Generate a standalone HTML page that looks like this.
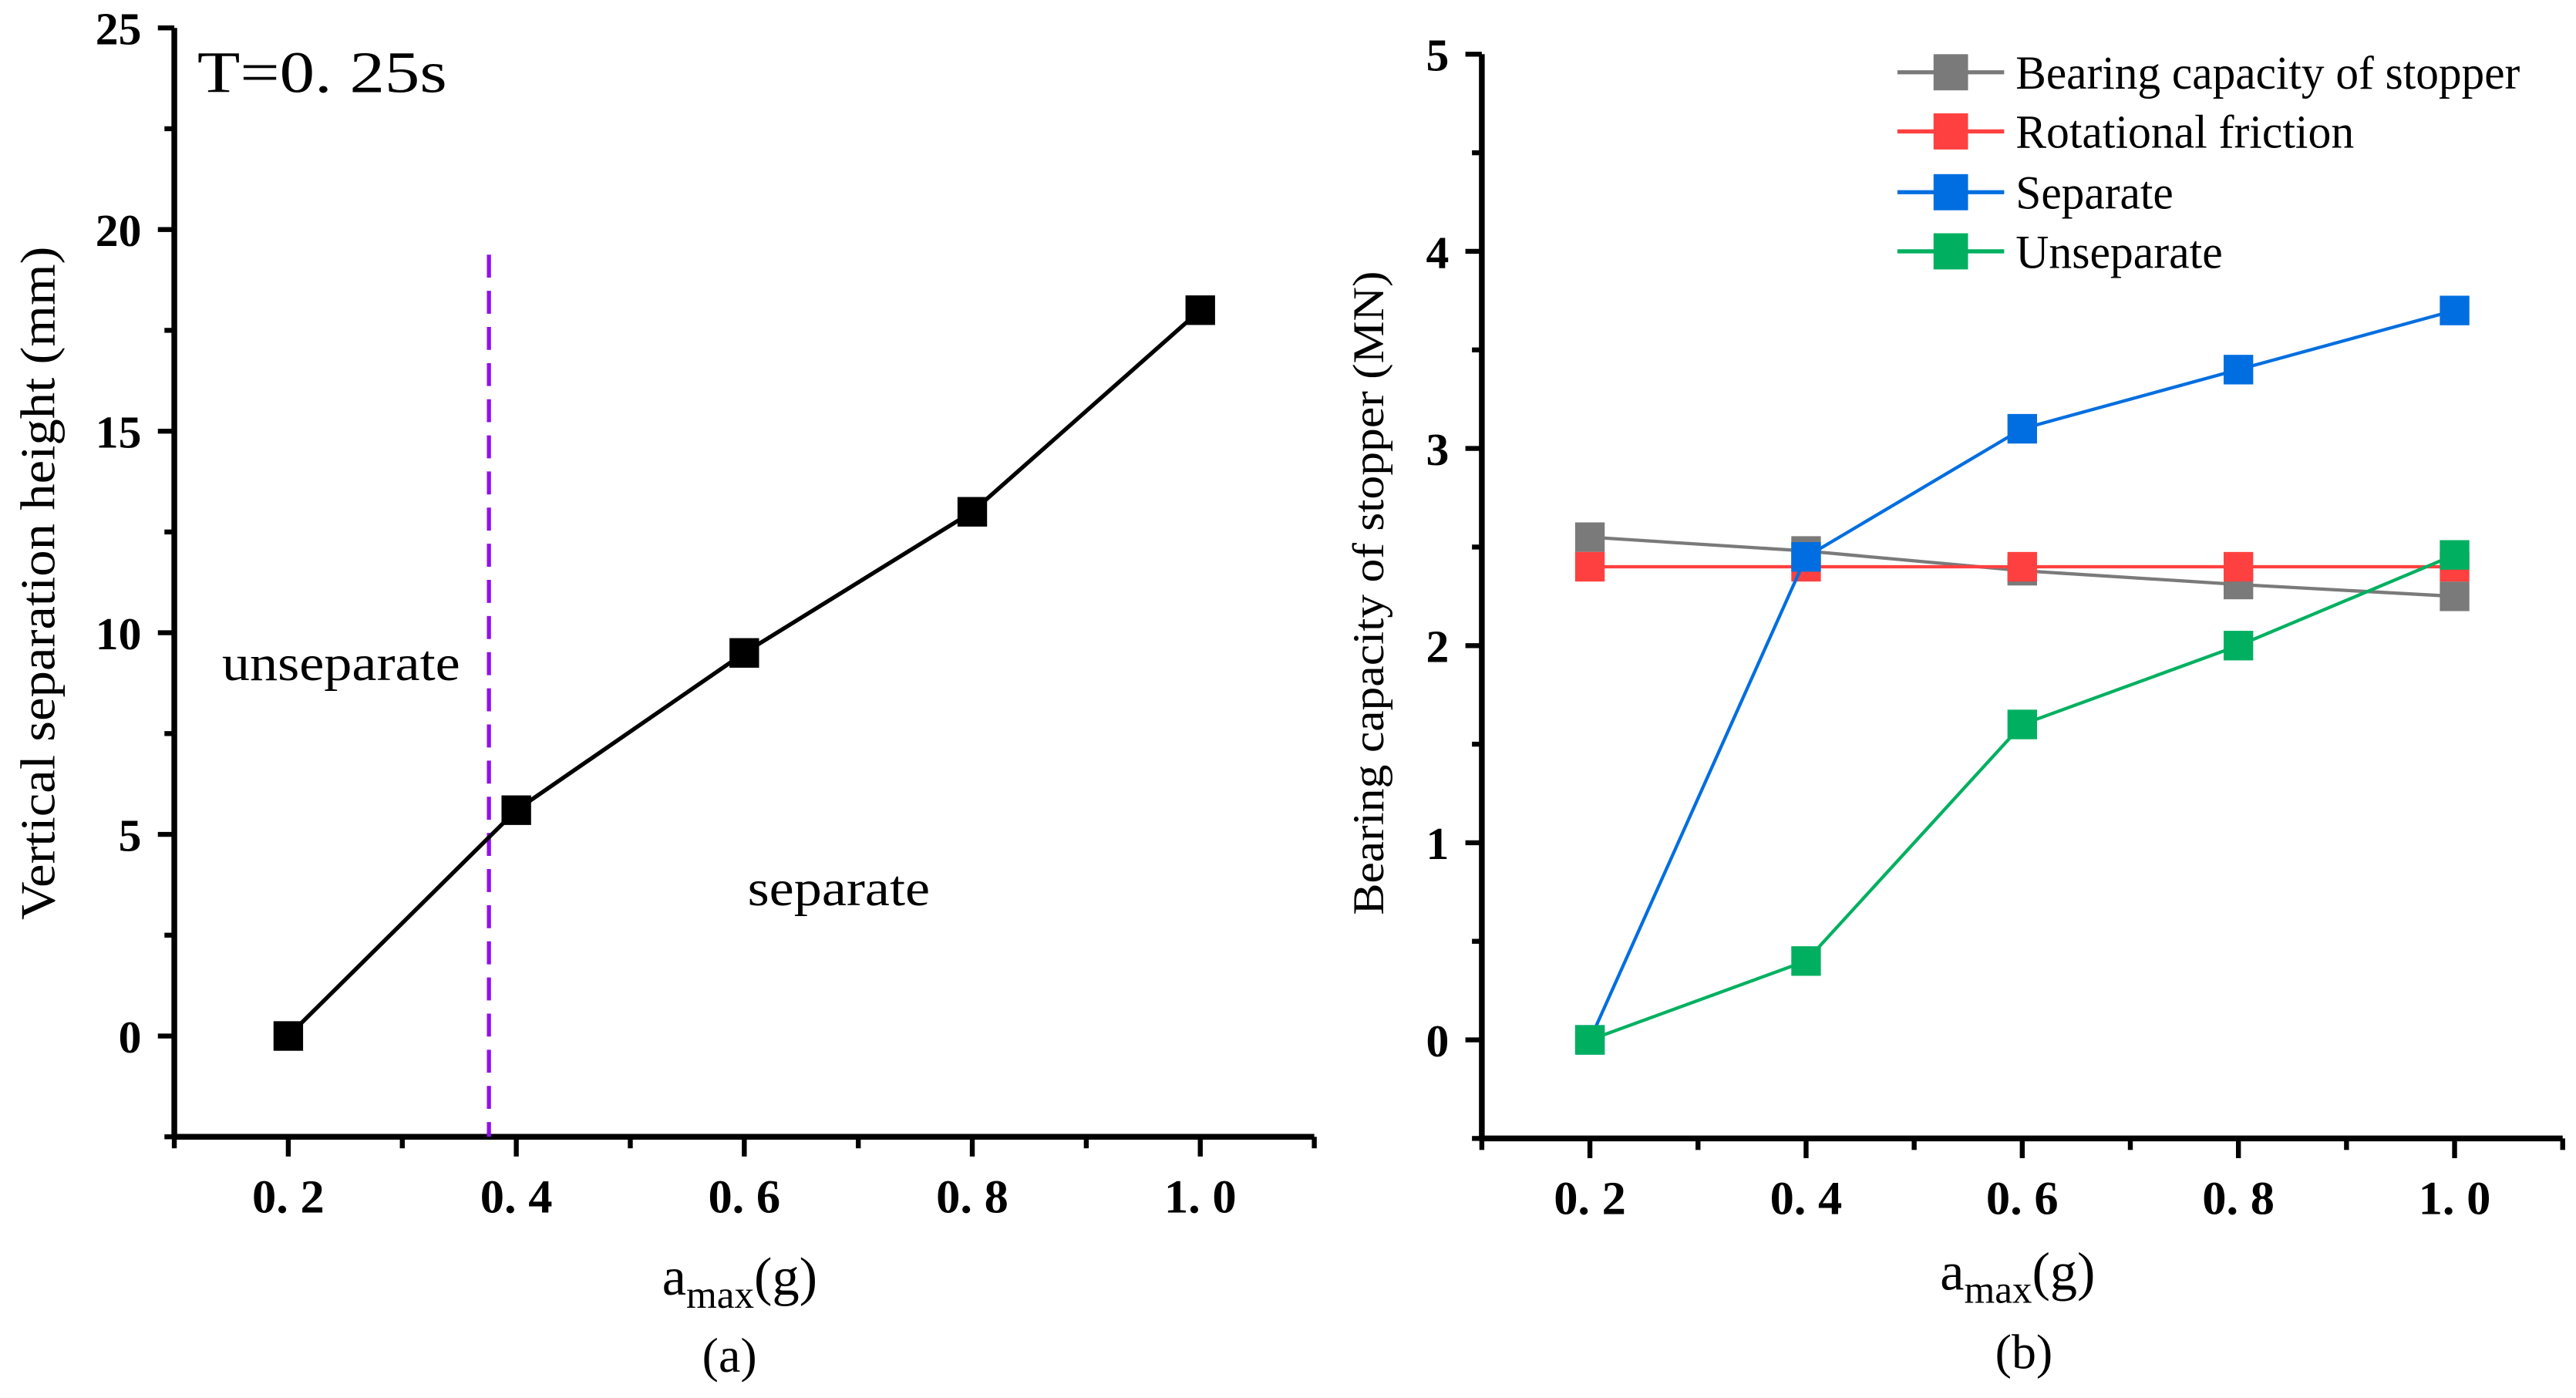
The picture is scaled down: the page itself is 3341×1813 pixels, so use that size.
<!DOCTYPE html>
<html><head><meta charset="utf-8"><style>html,body{margin:0;padding:0;background:#fff}svg{display:block}text{font-family:"Liberation Serif","Noto Serif CJK SC",serif;fill:#000}</style></head>
<body>
<svg id="fig" width="3341" height="1813" viewBox="0 0 1568 851" xmlns="http://www.w3.org/2000/svg">
<g id="chartA"></g>
<g id="chartB"></g>
</svg>
<script>
const xCats=[0.2,0.4,0.6,0.8,1.0];
const xTickLabels=["0. 2","0. 4","0. 6","0. 8","1. 0"];
const aValues=[0,5.6,9.5,13,18];
const aYTicks=[0,5,10,15,20,25];
const bYTicks=[0,1,2,3,4,5];
const bNames=["Bearing capacity of stopper","Rotational friction","Separate","Unseparate"];
const bColors=["#7a7a7a","#ff4040","#006ee0","#00b060"];
const bGray=[2.55,2.48,2.38,2.31,2.25];
const bRed=[2.4,2.4,2.4,2.4,2.4];
const bBlue=[0,2.45,3.1,3.4,3.7];
const bGreen=[0,0.4,1.6,2.0,2.46];
const dividerX=0.376;

const NS="http://www.w3.org/2000/svg";
function mk(parent,tag,attrs,txt){const e=document.createElementNS(NS,tag);for(const k in attrs)e.setAttribute(k,attrs[k]);if(txt!==undefined)e.textContent=txt;parent.appendChild(e);return e;}
function fit(e,len){e.setAttribute('textLength',len);e.setAttribute('lengthAdjust','spacingAndGlyphs');}

function axes(g,L,R,T,B,xmin,xmax,ymin,ymax,yTicks,yMinorStep,prefix){
  const sx=v=>L+(v-xmin)/(xmax-xmin)*(R-L);
  const sy=v=>B-(v-ymin)/(ymax-ymin)*(B-T);
  let e=mk(g,'line',{x1:L,y1:B,x2:R,y2:B,stroke:'#000','stroke-width':3.5});
  
  
  e=mk(g,'line',{x1:L,y1:T,x2:L,y2:B,stroke:'#000','stroke-width':3.5});
  
  
  for(let v=xmin;v<=xmax+1e-9;v+=0.1){
    const major=xCats.some(c=>Math.abs(c-v)<1e-6);
    mk(g,'line',{x1:sx(v),y1:B,x2:sx(v),y2:B+(major?12:7),stroke:'#000','stroke-width':3});
  }
  xCats.forEach((c,i)=>{
    const t=mk(g,'text',{x:sx(c),y:B+46,'text-anchor':'middle','font-size':29,'font-weight':'bold'},xTickLabels[i]);
    fit(t,44);
    
    
  });
  for(let v=ymin;v<=ymax+1e-9;v+=yMinorStep){
    const major=yTicks.some(c=>Math.abs(c-v)<1e-6);
    mk(g,'line',{x1:L,y1:sy(v),x2:L-(major?10:6),y2:sy(v),stroke:'#000','stroke-width':3});
  }
  yTicks.forEach(v=>{
    const t=mk(g,'text',{x:L-20,y:sy(v)+10,'text-anchor':'end','font-size':28,'font-weight':'bold'},String(v));
    fit(t,String(v).length*14);
    
    
  });
  return {sx,sy};
}

function series(g,sx,sy,vals,color,name,w){
  const pts=xCats.map((c,i)=>sx(c)+','+sy(vals[i])).join(' ');
  const pl=mk(g,'polyline',{points:pts,fill:'none',stroke:color,'stroke-width':w});
  
  
  xCats.forEach((c,i)=>{
    const r=mk(g,'rect',{x:sx(c)-9,y:sy(vals[i])-9,width:18,height:18,fill:color});
    
    
  });
}

// Chart A
const gA=document.getElementById('chartA');
const A=axes(gA,106,800,17,692,0.1,1.1,-2.5,25,aYTicks,2.5,'a-');
const dl=mk(gA,'line',{x1:A.sx(dividerX),y1:155,x2:A.sx(dividerX),y2:692,stroke:'#9010f0','stroke-width':2.5,'stroke-dasharray':'14,8'});


series(gA,A.sx,A.sy,aValues,'#000','separation-height',2.5);
let t;
t=mk(gA,'text',{x:120,y:56,'font-size':36},'T=0. 25s');fit(t,152);

t=mk(gA,'text',{x:135,y:414,'font-size':31},'unseparate');fit(t,145);

t=mk(gA,'text',{x:455,y:551,'font-size':31},'separate');fit(t,111);

t=mk(gA,'text',{x:0,y:0,'font-size':30,'text-anchor':'middle',transform:'translate(33,355) rotate(-90)'},'Vertical separation height (mm)');fit(t,410);

t=mk(gA,'text',{x:403,y:788,'font-size':33});

t.innerHTML='a<tspan font-size="24" dy="8">max</tspan><tspan dy="-8">(g)</tspan>';
t=mk(gA,'text',{x:444,y:835,'font-size':30,'text-anchor':'middle'},'(a)');


// Chart B
const gB=document.getElementById('chartB');
const B=axes(gB,902,1560,33,693,0.1,1.1,-0.5,5,bYTicks,0.5,'b-');
const bSeries=[bGray,bRed,bBlue,bGreen];
const bKeys=['bearing-capacity','rotational-friction','separate','unseparate'];
bSeries.forEach((s,i)=>series(gB,B.sx,B.sy,s,bColors[i],bKeys[i],2));
const legY=[44,80,117,153];
const legW=[307,206,96,126];
bNames.forEach((n,i)=>{
  const lg=mk(gB,'g',{});
  
  
  mk(lg,'line',{x1:1155,y1:legY[i],x2:1220,y2:legY[i],stroke:bColors[i],'stroke-width':2.5});
  mk(lg,'rect',{x:1177,y:legY[i]-11,width:21,height:22,fill:bColors[i]});
  const tt=mk(lg,'text',{x:1227,y:legY[i]+10,'font-size':29},n);fit(tt,legW[i]);
});
t=mk(gB,'text',{x:0,y:0,'font-size':27,'text-anchor':'middle',transform:'translate(842,361) rotate(-90)'},'Bearing capacity of stopper (MN)');fit(t,392);

t=mk(gB,'text',{x:1181,y:785,'font-size':33});

t.innerHTML='a<tspan font-size="24" dy="8">max</tspan><tspan dy="-8">(g)</tspan>';
t=mk(gB,'text',{x:1232,y:833,'font-size':30,'text-anchor':'middle'},'(b)');

</script>
</body></html>
